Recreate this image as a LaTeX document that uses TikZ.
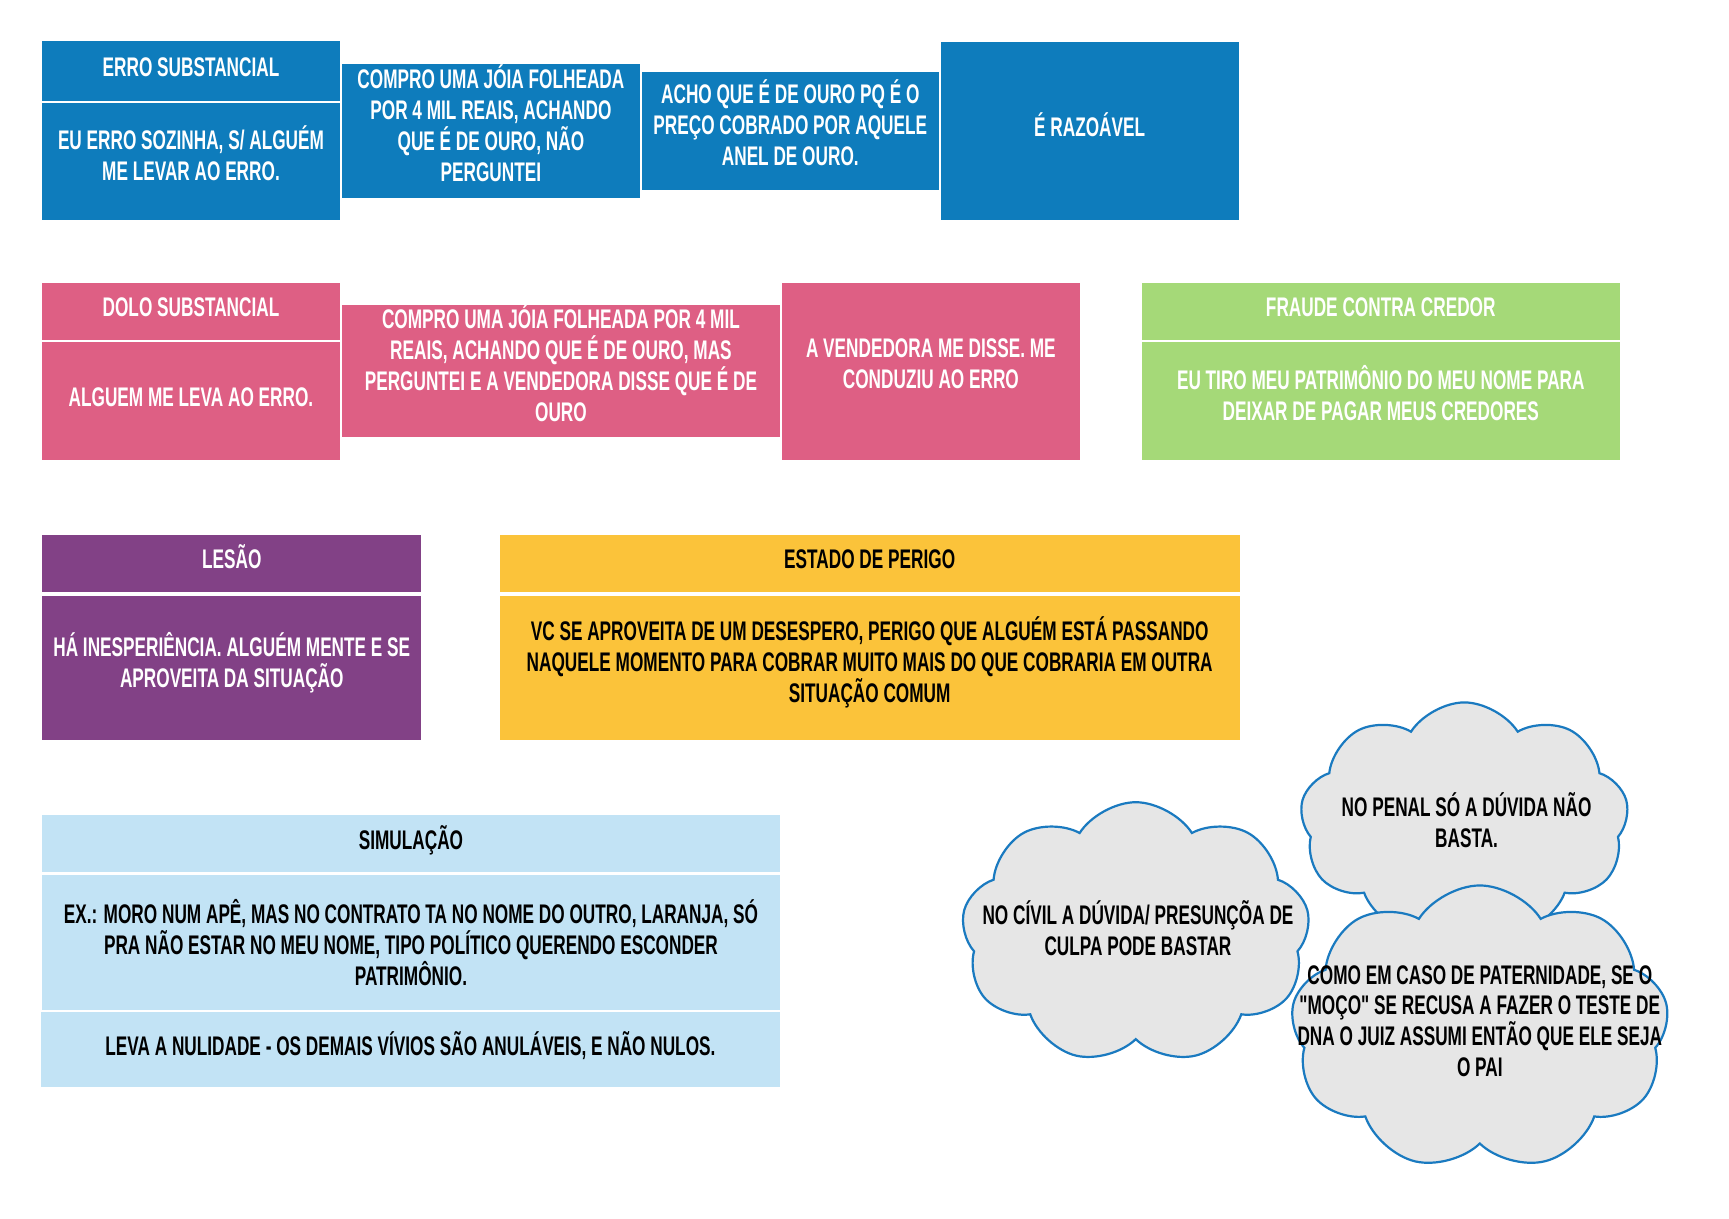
\documentclass[tikz,border=0pt]{standalone}
\usepackage{fontspec}
\usepackage{tikz}
\usetikzlibrary{shapes.symbols}
\newfontfamily\bebas{Liberation Sans}[FakeStretch=0.64]

\definecolor{azul}{RGB}{14,124,188}
\definecolor{rosa}{RGB}{222,95,132}
\definecolor{verde}{RGB}{165,217,120}
\definecolor{roxo}{RGB}{130,65,134}
\definecolor{amarelo}{RGB}{251,195,58}
\definecolor{celeste}{RGB}{194,227,245}
\definecolor{nuvem}{RGB}{230,230,230}
\definecolor{contorno}{RGB}{26,122,192}

\tikzset{
  caixa/.style={rectangle, inner sep=0pt, anchor=north west, align=center,
    font=\bebas\bfseries\fontsize{24.4}{28}\selectfont,
    execute at begin node={\rule{0pt}{24pt}},
    execute at end node={\rule[-14.5pt]{0pt}{14.5pt}}},
  azulbox/.style={caixa, fill=azul, text=white},
  rosabox/.style={caixa, fill=rosa, text=white},
  verdebox/.style={caixa, fill=verde, text=white},
  roxobox/.style={caixa, fill=roxo, text=white},
  amarelobox/.style={caixa, fill=amarelo, text=black},
  celestebox/.style={caixa, fill=celeste, text=black},
  nuvembox/.style={cloud, cloud puffs=9, cloud puff arc=115, cloud ignores aspect,
    fill=nuvem, draw=contorno, line width=2pt, inner sep=0pt},
  nuvemtexto/.style={align=center, text=black, inner sep=0pt,
    font=\bebas\bfseries\fontsize{24.4}{28}\selectfont}
}

\begin{document}
\begin{tikzpicture}[x=1pt, y=-1pt]
  % fundo
  \fill[white] (0,0) rectangle (1568,1105);

  % Erro substancial
  \node[azulbox, minimum width=270pt, minimum height=54pt] (erroT) at (38,37) {ERRO SUBSTANCIAL};
  \node[azulbox, minimum width=270pt, minimum height=106pt] (erroB) at (38,93) {EU ERRO SOZINHA, S/ ALGUÉM\\ME LEVAR AO ERRO.};
  \node[azulbox, minimum width=270pt, minimum height=121pt] (comproA) at (310,58) {COMPRO UMA JÓIA FOLHEADA\\POR 4 MIL REAIS, ACHANDO\\QUE É DE OURO, NÃO\\PERGUNTEI};
  \node[azulbox, minimum width=269pt, minimum height=107pt] (acho) at (582,65) {ACHO QUE É DE OURO PQ É O\\PREÇO COBRADO POR AQUELE\\ANEL DE OURO.};
  \node[azulbox, minimum width=270pt, minimum height=161pt] (razo) at (853,38) {É RAZOÁVEL};

  % Dolo substancial
  \node[rosabox, minimum width=270pt, minimum height=52pt] (doloT) at (38,256) {DOLO SUBSTANCIAL};
  \node[rosabox, minimum width=270pt, minimum height=107pt] (doloB) at (38,310) {ALGUEM ME LEVA AO ERRO.};
  \node[rosabox, minimum width=397pt, minimum height=120pt] (comproB) at (310,276) {COMPRO UMA JÓIA FOLHEADA POR 4 MIL\\REAIS, ACHANDO QUE É DE OURO, MAS\\PERGUNTEI E A VENDEDORA DISSE QUE É DE\\OURO};
  \node[rosabox, minimum width=270pt, minimum height=161pt] (vendedora) at (709,256) {A VENDEDORA ME DISSE. ME\\CONDUZIU AO ERRO};

  % Fraude contra credor
  \node[verdebox, minimum width=434pt, minimum height=52pt] (fraudeT) at (1035,256) {FRAUDE CONTRA CREDOR};
  \node[verdebox, minimum width=434pt, minimum height=107pt] (fraudeB) at (1035,310) {EU TIRO MEU PATRIMÔNIO DO MEU NOME PARA\\DEIXAR DE PAGAR MEUS CREDORES};

  % Lesao e estado de perigo
  \node[roxobox, minimum width=344pt, minimum height=52pt] (lesaoT) at (38,485) {LESÃO};
  \node[roxobox, minimum width=344pt, minimum height=131pt] (lesaoB) at (38,540) {HÁ INESPERIÊNCIA. ALGUÉM MENTE E SE\\APROVEITA DA SITUAÇÃO};
  \node[amarelobox, minimum width=671pt, minimum height=52pt] (perigoT) at (453,485) {ESTADO DE PERIGO};
  \node[amarelobox, minimum width=671pt, minimum height=131pt] (perigoB) at (453,540) {VC SE APROVEITA DE UM DESESPERO, PERIGO QUE ALGUÉM ESTÁ PASSANDO\\NAQUELE MOMENTO PARA COBRAR MUITO MAIS DO QUE COBRARIA EM OUTRA\\SITUAÇÃO COMUM};

  % Simulacao
  \node[celestebox, minimum width=669pt, minimum height=52pt] (simT) at (38,739) {SIMULAÇÃO};
  \node[celestebox, minimum width=669pt, minimum height=123pt, text depth=0pt] (simB) at (38,793) {EX.: MORO NUM APÊ, MAS NO CONTRATO TA NO NOME DO OUTRO, LARANJA, SÓ\\PRA NÃO ESTAR NO MEU NOME, TIPO POLÍTICO QUERENDO ESCONDER\\PATRIMÔNIO.\rule[-4.5pt]{0pt}{0pt}};
  \node[celestebox, minimum width=670pt, minimum height=68pt] (simC) at (37,918) {LEVA A NULIDADE - OS DEMAIS VÍVIOS SÃO ANULÁVEIS, E NÃO NULOS.};

  % Nuvens
  \node[nuvembox, minimum width=316pt, minimum height=237pt] (civil) at (1030,846) {};
  \node[nuvemtexto] (civilT) at (1032,842) {NO CÍVIL A DÚVIDA/ PRESUNÇÕA DE\\CULPA PODE BASTAR};
  \node[nuvembox, minimum width=298pt, minimum height=214pt] (penal) at (1328,744) {};
  \node[nuvemtexto] (penalT) at (1330,744) {NO PENAL SÓ A DÚVIDA NÃO\\BASTA.};
  \node[nuvembox, minimum width=343pt, minimum height=258pt] (pai) at (1342,932) {};
  \node[nuvemtexto] (paiT) at (1342,926) {COMO EM CASO DE PATERNIDADE, SE O\\"MOÇO" SE RECUSA A FAZER O TESTE DE\\DNA O JUIZ ASSUMI ENTÃO QUE ELE SEJA\\O PAI};
\end{tikzpicture}
\end{document}
